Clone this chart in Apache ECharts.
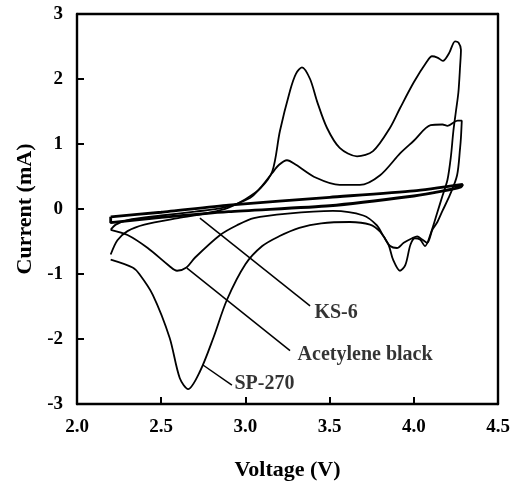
<!DOCTYPE html>
<html lang="en">
<head>
    <meta charset="UTF-8">
    <title>Cyclic voltammetry</title>
    <script src="https://cdn.jsdelivr.net/npm/echarts@6/dist/echarts.min.js"></script>
    <style>
        body { margin: 0; background: #fff; }
        #main { width: 517px; height: 491px; }
    </style>
</head>
<body>
<div id="main"></div>
<script type="text/javascript">
    // x ticks / y ticks
    var xTicks = [2.0, 2.5, 3.0, 3.5, 4.0, 4.5];
    var yTicks = [-3, -2, -1, 0, 1, 2, 3];

    // SP-270: anodic sweep then cathodic sweep
    var spV = [2.2, 2.24, 2.3, 2.4, 2.6, 2.8, 2.9, 3.0, 3.09, 3.16, 3.205, 3.265, 3.3, 3.336, 3.384, 3.425, 3.484, 3.56, 3.663, 3.758, 3.859, 3.918, 4.0, 4.078, 4.108, 4.14, 4.173, 4.21, 4.245, 4.265, 4.28,
               4.275, 4.265, 4.25, 4.235, 4.22, 4.2, 4.17, 4.14, 4.1, 4.067, 4.037, 4.007, 3.98, 3.95, 3.918, 3.877, 3.85, 3.8, 3.74, 3.62, 3.45, 3.32, 3.2, 3.1, 3.0, 2.89, 2.81, 2.73, 2.66, 2.61, 2.55, 2.45, 2.37, 2.33, 2.2];
    var spI = [-0.7, -0.48, -0.34, -0.24, -0.14, -0.05, 0.02, 0.15, 0.32, 0.58, 1.2, 1.82, 2.08, 2.18, 2.0, 1.66, 1.25, 0.94, 0.81, 0.89, 1.25, 1.55, 1.95, 2.27, 2.35, 2.33, 2.28, 2.4, 2.58, 2.56, 2.45,
               2.2, 1.8, 1.5, 1.2, 0.8, 0.45, 0.2, -0.05, -0.38, -0.57, -0.47, -0.45, -0.55, -0.86, -0.95, -0.78, -0.55, -0.35, -0.24, -0.2, -0.22, -0.29, -0.42, -0.57, -0.85, -1.4, -1.98, -2.5, -2.77, -2.6, -1.98, -1.32, -1.0, -0.9, -0.78];

    // Acetylene black
    var abV = [2.2, 2.23, 2.3, 2.5, 2.7, 2.87, 3.027, 3.087, 3.158, 3.2, 3.247, 3.3, 3.42, 3.56, 3.68, 3.8, 3.92, 4.0, 4.1, 4.17, 4.2, 4.26, 4.285,
               4.28, 4.275, 4.257, 4.215, 4.17, 4.14, 4.11, 4.08, 4.05, 4.02, 3.99, 3.94, 3.9, 3.86, 3.82, 3.78, 3.7, 3.52, 3.25, 3.05, 2.95, 2.85, 2.7, 2.65, 2.594, 2.55, 2.42, 2.3, 2.2];
    var abI = [-0.32, -0.24, -0.17, -0.1, -0.04, 0.02, 0.17, 0.32, 0.55, 0.68, 0.75, 0.68, 0.48, 0.37, 0.37, 0.52, 0.86, 1.05, 1.29, 1.3, 1.28, 1.36, 1.36,
               1.1, 0.94, 0.52, 0.22, -0.03, -0.2, -0.32, -0.52, -0.47, -0.42, -0.45, -0.52, -0.6, -0.57, -0.42, -0.25, -0.1, -0.03, -0.07, -0.14, -0.25, -0.4, -0.75, -0.9, -0.95, -0.88, -0.6, -0.4, -0.32];

    // KS-6
    var ksV = [2.2, 2.5, 2.9, 3.5, 4.0, 4.29, 4.28, 4.16, 4.0, 3.5, 2.9, 2.5, 2.2, 2.2];
    var ksI = [-0.12, -0.05, 0.06, 0.18, 0.28, 0.38, 0.34, 0.27, 0.2, 0.05, -0.04, -0.13, -0.21, -0.12];

    // labels and their leader lines (data coordinates)
    var labelNames = ['KS-6', 'Acetylene black', 'SP-270'];
    var labelV = [3.41, 3.31, 2.935];
    var labelI = [-1.6, -2.25, -2.69];
    var leaderStartV = [2.73, 2.653, 2.748];
    var leaderStartI = [-0.14, -0.91, -2.4];
    var leaderEndV = [3.384, 3.265, 2.92];
    var leaderEndI = [-1.49, -2.18, -2.71];

    function zip(a, b) {
        var out = [];
        for (var i = 0; i < a.length; i++) out.push([a[i], b[i]]);
        return out;
    }

    var font = 'Liberation Serif';
    var myChart = echarts.init(document.getElementById('main'));

    var series = [
        {name: 'SP-270', type: 'line', data: zip(spV, spI), smooth: 0.3, showSymbol: false,
            lineStyle: {color: '#000', width: 1.8}},
        {name: 'Acetylene black', type: 'line', data: zip(abV, abI), smooth: 0.3, showSymbol: false,
            lineStyle: {color: '#000', width: 1.8}},
        {name: 'KS-6', type: 'line', data: zip(ksV, ksI), smooth: 0.2, showSymbol: false,
            lineStyle: {color: '#000', width: 2.8}}
    ];
    for (var k = 0; k < labelNames.length; k++) {
        series.push({
            type: 'line', showSymbol: false, silent: true,
            data: [[leaderStartV[k], leaderStartI[k]], [leaderEndV[k], leaderEndI[k]]],
            lineStyle: {color: '#000', width: 1.5}
        });
    }
    var labelData = [];
    for (var j = 0; j < labelNames.length; j++) {
        labelData.push({value: [labelV[j], labelI[j]], name: labelNames[j]});
    }
    series.push({
        type: 'scatter', symbolSize: 0, silent: true, data: labelData,
        label: {show: true, position: 'right', distance: 0, formatter: '{b}',
            color: '#000', fontFamily: font, fontWeight: 'bold', fontSize: 20}
    });

    var option = {
        animation: false,
        grid: {left: 77, top: 14, right: 19, bottom: 87},
        xAxis: [{
            type: 'value', min: xTicks[0], max: xTicks[xTicks.length - 1], interval: 0.5,
            name: 'Voltage (V)', nameLocation: 'middle', nameGap: 55,
            nameTextStyle: {color: '#000', fontFamily: font, fontWeight: 'bold', fontSize: 22},
            axisLine: {onZero: false, lineStyle: {color: '#000', width: 2.4}},
            axisTick: {inside: true, length: 7, lineStyle: {width: 2}},
            axisLabel: {color: '#000', fontFamily: font, fontWeight: 'bold', fontSize: 19, margin: 14,
                formatter: function (v) { return v.toFixed(1); }},
            splitLine: {show: false}
        }, {
            type: 'value', position: 'top', min: xTicks[0], max: xTicks[xTicks.length - 1],
            axisLine: {show: true, onZero: false, lineStyle: {color: '#000', width: 2.4}},
            axisTick: {show: false}, axisLabel: {show: false}, splitLine: {show: false}
        }],
        yAxis: [{
            type: 'value', min: yTicks[0], max: yTicks[yTicks.length - 1], interval: 1,
            name: 'Current (mA)', nameLocation: 'middle', nameGap: 40,
            nameTextStyle: {color: '#000', fontFamily: font, fontWeight: 'bold', fontSize: 22},
            axisLine: {show: true, onZero: false, lineStyle: {color: '#000', width: 2.4}},
            axisTick: {show: true, inside: true, length: 7, lineStyle: {width: 2}},
            axisLabel: {color: '#000', fontFamily: font, fontWeight: 'bold', fontSize: 19, margin: 14},
            splitLine: {show: false}
        }, {
            type: 'value', position: 'right', min: yTicks[0], max: yTicks[yTicks.length - 1],
            axisLine: {show: true, onZero: false, lineStyle: {color: '#000', width: 2.4}},
            axisTick: {show: false}, axisLabel: {show: false}, splitLine: {show: false}
        }],
        series: series
    };
    myChart.setOption(option);
</script>
</body>
</html>
